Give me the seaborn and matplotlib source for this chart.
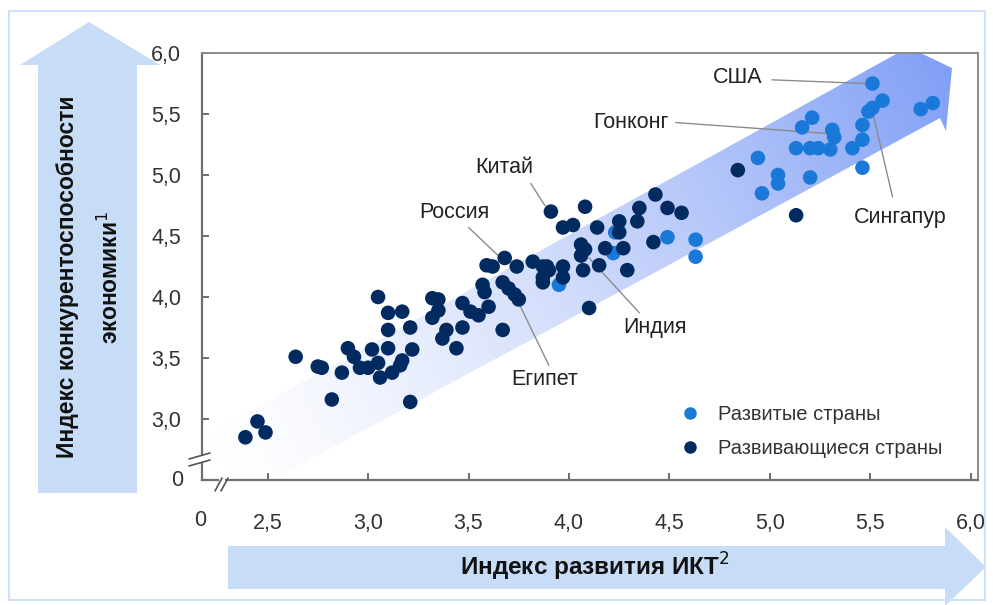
import numpy as np
import pandas as pd
import matplotlib
matplotlib.use("Agg")
import matplotlib.pyplot as plt
import seaborn as sns
from matplotlib.patches import Polygon, Rectangle
from matplotlib.lines import Line2D

# ---------------- data ----------------
dev_x = [5.51, 5.56, 5.51, 5.49, 5.46, 5.46, 5.41, 5.31, 5.32, 5.30, 5.24, 5.20,
         5.13, 5.16, 5.21, 5.46, 5.20, 5.04, 5.04, 4.96, 4.94, 5.75, 5.81, 4.63,
         4.49, 4.63, 4.22, 4.23, 3.95]
dev_y = [5.75, 5.61, 5.55, 5.52, 5.41, 5.29, 5.22, 5.37, 5.31, 5.21, 5.22, 5.22,
         5.22, 5.39, 5.47, 5.06, 4.98, 5.00, 4.93, 4.85, 5.14, 5.54, 5.59, 4.47,
         4.49, 4.33, 4.36, 4.53, 4.10]

emg_x = [2.39, 2.45, 2.49, 2.64, 2.82, 3.21,
         2.75, 2.77, 2.87, 2.90, 2.93, 2.96, 3.00, 3.02, 3.05, 3.06, 3.10, 3.12,
         3.16, 3.17, 3.22, 3.10, 3.10, 3.05, 3.17, 3.21,
         3.32, 3.35, 3.35, 3.32, 3.39, 3.37, 3.44, 3.47, 3.47, 3.51, 3.55, 3.60,
         3.57, 3.58, 3.59, 3.62, 3.68, 3.74, 3.82, 3.67, 3.70, 3.73, 3.75, 3.67,
         3.87, 3.89, 3.97, 3.97, 3.87, 3.90, 3.87,
         3.91, 4.08, 3.97, 4.02, 4.14, 4.25, 4.34, 4.25, 4.42, 4.43, 4.35, 4.49,
         4.56, 4.06, 4.08, 4.06, 4.18, 4.27, 4.15, 4.07, 4.29, 4.10,
         4.84, 5.13]
emg_y = [2.85, 2.98, 2.89, 3.51, 3.16, 3.14,
         3.43, 3.42, 3.38, 3.58, 3.51, 3.42, 3.42, 3.57, 3.46, 3.34, 3.58, 3.38,
         3.44, 3.48, 3.57, 3.73, 3.87, 4.00, 3.88, 3.75,
         3.99, 3.98, 3.89, 3.83, 3.73, 3.66, 3.58, 3.75, 3.95, 3.88, 3.85, 3.92,
         4.10, 4.04, 4.26, 4.25, 4.32, 4.25, 4.29, 4.12, 4.07, 4.02, 3.98, 3.73,
         4.12, 4.25, 4.25, 4.16, 4.16, 4.22, 4.25,
         4.70, 4.74, 4.57, 4.59, 4.57, 4.62, 4.62, 4.53, 4.45, 4.84, 4.73, 4.73,
         4.69, 4.43, 4.39, 4.34, 4.40, 4.40, 4.26, 4.22, 4.22, 3.91,
         5.04, 4.67]

groups = ["Развитые страны", "Развивающиеся страны"]
colors = ["#1a78d8", "#002a60"]

x_ticks = [2.5, 3.0, 3.5, 4.0, 4.5, 5.0, 5.5, 6.0]
y_ticks = [3.0, 3.5, 4.0, 4.5, 5.0, 5.5, 6.0]
x_tick_labels = ["2,5", "3,0", "3,5", "4,0", "4,5", "5,0", "5,5", "6,0"]
y_tick_labels = ["3,0", "3,5", "4,0", "4,5", "5,0", "5,5", "6,0"]

# label text positions and leader line (from -> to) in data units
ann_names = ["США", "Гонконг", "Сингапур", "Китай", "Россия", "Индия", "Египет"]
ann_text_x = [4.84, 4.31, 5.65, 3.68, 3.43, 4.43, 3.88]
ann_text_y = [5.80, 5.43, 4.65, 5.06, 4.69, 3.75, 3.32]
ann_line_x0 = [5.01, 4.53, 5.61, 3.81, 3.50, 4.35, 3.90]
ann_line_y0 = [5.78, 5.43, 4.82, 4.93, 4.57, 3.87, 3.44]
ann_line_x1 = [5.48, 5.29, 5.51, 3.88, 3.66, 4.10, 3.75]
ann_line_y1 = [5.75, 5.34, 5.52, 4.75, 4.32, 4.32, 3.95]

df = pd.DataFrame({
    "x": dev_x + emg_x,
    "y": dev_y + emg_y,
    "group": [groups[0]] * len(dev_x) + [groups[1]] * len(emg_x),
})

# ---------------- figure ----------------
sns.set_style("white")
plt.rcParams["font.family"] = ["Liberation Sans", "DejaVu Sans"]

W, H = 993, 605
fig = plt.figure(figsize=(W / 100, H / 100), dpi=100)
fig.patch.set_facecolor("white")

def fx(px):
    return px / W

def fy(py):
    return 1 - py / H

# outer light border
fig.add_artist(Rectangle((fx(9), fy(600)), fx(985) - fx(9), fy(11) - fy(600),
                         transform=fig.transFigure, fill=False,
                         edgecolor="#cfe1f6", linewidth=1.5))

AX_L, AX_R, AX_T, AX_B = 202, 978, 53, 480
ax = fig.add_axes([fx(AX_L), fy(AX_B), fx(AX_R) - fx(AX_L), fy(AX_T) - fy(AX_B)])

def axx(px):
    return (px - AX_L) / (AX_R - AX_L)

def axy(py):
    return (AX_B - py) / (AX_B - AX_T)

# gradient arrow band (decoration), defined in pixel space -> axes coords
band_px = [(180, 450), (898, 53), (889, 38), (952, 68), (946, 131), (940, 118), (180, 530)]
band = Polygon([(axx(p[0]), axy(p[1])) for p in band_px], closed=True,
               transform=ax.transAxes, facecolor="none", edgecolor="none")
ax.add_patch(band)
nx, ny = 400, 220
gx, gy = np.meshgrid(np.linspace(AX_L, AX_R, nx), np.linspace(AX_T, AX_B, ny))
x0, y0, x1, y1 = 215.0, 480.0, 950.0, 70.0
L2 = (x1 - x0) ** 2 + (y1 - y0) ** 2
t = ((gx - x0) * (x1 - x0) + (gy - y0) * (y1 - y0)) / L2
t = np.clip(t, 0, 1)
rgba = np.zeros((ny, nx, 4))
base = np.array([0x7a, 0x9a, 0xf5]) / 255.0
rgba[..., :3] = base
rgba[..., 3] = np.clip(t ** 1.35 * 0.95, 0, 1)
im = ax.imshow(rgba, extent=[0, 1, 0, 1], transform=ax.transAxes,
               origin="upper", aspect="auto", zorder=0.5, interpolation="bilinear")
im.set_clip_path(band)

sns.scatterplot(data=df, x="x", y="y", hue="group", hue_order=groups,
                palette=colors, s=110, edgecolor="none", linewidth=0,
                ax=ax, zorder=3, legend=False)

ax.set_xlim(2.174, 6.035)
ax.set_ylim(2.5, 6.0)
ax.set_xticks(x_ticks)
ax.set_xticklabels(x_tick_labels)
ax.set_yticks(y_ticks)
ax.set_yticklabels(y_tick_labels)
ax.set_xlabel("")
ax.set_ylabel("")
ax.tick_params(axis="both", direction="in", length=5, width=1.2, color="#555555",
               labelsize=15.5, labelcolor="#333333")
ax.tick_params(axis="x", pad=24)
ax.tick_params(axis="y", pad=15)
ax.xaxis.set_ticks_position("bottom")
ax.yaxis.set_ticks_position("left")
for side in ["left", "bottom"]:
    ax.spines[side].set_color("#6f6f6f")
    ax.spines[side].set_linewidth(1.6)
for side in ["top", "right"]:
    ax.spines[side].set_color("#8a8a8a")
    ax.spines[side].set_linewidth(1.4)

# "0" origin labels
ax.text(axx(183), 0.0, "0", transform=ax.transAxes, ha="right", va="center",
        fontsize=15.5, color="#333333")
ax.text(axx(200), axy(520), "0", transform=ax.transAxes, ha="center", va="center",
        fontsize=15.5, color="#333333")

# axis break marks
for dy in (0, 7):
    ax.plot([axx(189), axx(210)], [axy(459 + dy), axy(453 + dy)], transform=ax.transAxes,
            color="#555555", lw=1.2, clip_on=False, zorder=5)
ax.add_patch(Rectangle((axx(199), axy(462)), axx(205) - axx(199), axy(456) - axy(462),
                       transform=ax.transAxes, facecolor="white", edgecolor="none",
                       clip_on=False, zorder=4))
ax.add_patch(Rectangle((axx(219), axy(483)), axx(225) - axx(219), axy(477) - axy(483),
                       transform=ax.transAxes, facecolor="white", edgecolor="none",
                       clip_on=False, zorder=4))
for dx in (0, 6):
    ax.plot([axx(215 + dx), axx(222 + dx)], [axy(491), axy(478)], transform=ax.transAxes,
            color="#555555", lw=1.2, clip_on=False, zorder=5)

# annotations
for name, tx, ty, lx0, ly0, lx1, ly1 in zip(ann_names, ann_text_x, ann_text_y,
                                            ann_line_x0, ann_line_y0,
                                            ann_line_x1, ann_line_y1):
    ax.plot([lx0, lx1], [ly0, ly1], color="#8c8c8c", lw=1.0, zorder=2.5)
    ax.text(tx, ty, name, ha="center", va="center", fontsize=15.5, color="#222222",
            zorder=6)

# legend
handles = [Line2D([0], [0], marker="o", linestyle="none", markersize=9,
                  markerfacecolor=c, markeredgecolor="none") for c in colors]
leg = ax.legend(handles, groups, loc="upper left",
                bbox_to_anchor=(axx(670), axy(397)), frameon=False,
                fontsize=14.5, handletextpad=0.8, labelspacing=0.75,
                borderaxespad=0, handlelength=1.2)
for txt in leg.get_texts():
    txt.set_color("#333333")

# left axis-title arrow
left_arrow = [(38, 493), (38, 65), (20, 65), (89, 22), (160, 65), (137, 65), (137, 493)]
fig.add_artist(Polygon([(fx(p[0]), fy(p[1])) for p in left_arrow], closed=True,
                       transform=fig.transFigure, facecolor="#c7ddf7", edgecolor="none"))
fig.text(fx(68), fy(277), "Индекс конкурентоспособности", rotation=90,
         ha="center", va="center", fontsize=16.5, fontweight="bold", color="#111111")
fig.text(fx(110), fy(277), "экономики$^{1}$", rotation=90,
         ha="center", va="center", fontsize=16.5, fontweight="bold", color="#111111")

# bottom axis-title arrow
bottom_arrow = [(228, 546), (945, 546), (945, 527), (986, 567), (945, 606),
                (945, 589), (228, 589)]
fig.add_artist(Polygon([(fx(p[0]), fy(p[1])) for p in bottom_arrow], closed=True,
                       transform=fig.transFigure, facecolor="#c7ddf7", edgecolor="none"))
fig.text(fx(595), fy(567), "Индекс развития ИКТ$^{2}$", ha="center", va="center",
         fontsize=17.5, fontweight="bold", color="#111111")

fig.savefig("out.png", dpi=100)
